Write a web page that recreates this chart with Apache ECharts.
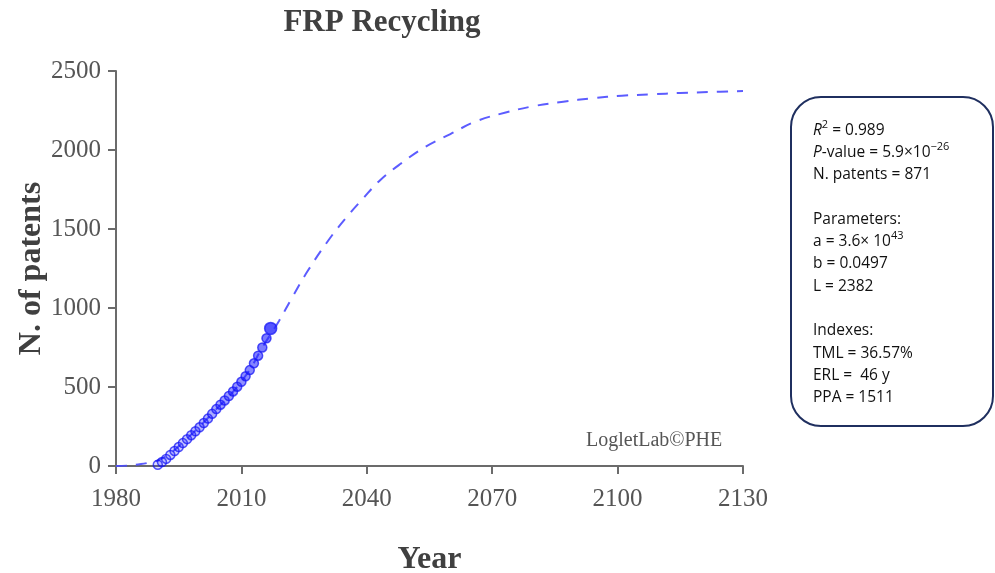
<!DOCTYPE html>
<html>
<head>
<meta charset="utf-8">
<script src="https://cdn.jsdelivr.net/npm/echarts@6/dist/echarts.min.js"></script>
<style>
  html, body { margin: 0; padding: 0; background: #fff; }
  #chart { width: 995px; height: 573px; }
</style>
</head>
<body>
<div id="chart"></div>
<script>
// Observed cumulative patents per year
const years = [1990, 1991, 1992, 1993, 1994, 1995, 1996, 1997, 1998, 1999,
               2000, 2001, 2002, 2003, 2004, 2005, 2006, 2007, 2008, 2009,
               2010, 2011, 2012, 2013, 2014, 2015, 2016, 2017];
const patents = [8, 25, 45, 70, 95, 120, 145, 170, 195, 220,
                 245, 272, 300, 330, 360, 388, 415, 443, 472, 502,
                 533, 568, 607, 650, 698, 750, 808, 871];

// Fitted logistic curve (dashed)
const fitYears = [1980, 1983, 1986, 1988, 1990, 1993, 1996, 2000, 2004, 2008,
                  2012, 2015, 2019, 2022, 2026, 2031, 2035, 2039, 2043, 2048,
                  2054, 2060, 2066, 2073, 2080, 2087, 2094, 2101, 2108, 2115,
                  2122, 2130];
const fitValues = [0, 3, 12, 22, 35, 80, 150, 250, 360, 470,
                   610, 750, 918, 1060, 1240, 1435, 1570, 1690, 1804, 1911,
                   2020, 2101, 2180, 2236, 2278, 2306, 2327, 2344, 2352, 2361,
                   2367, 2373];

const yTicks = [0, 500, 1000, 1500, 2000, 2500];
const xTicks = [1980, 2010, 2040, 2070, 2100, 2130];

const statsLines = [
  '{i|R}{sup|2} = 0.989',
  '{i|P}-value = 5.9×10{sup|−26}',
  'N. patents = 871',
  '',
  'Parameters:',
  'a = 3.6× 10{sup|43}',
  'b = 0.0497',
  'L = 2382',
  '',
  'Indexes:',
  'TML = 36.57%',
  'ERL =  46 y',
  'PPA = 1511'
];

const chart = echarts.init(document.getElementById('chart'), null, { renderer: 'canvas' });

const serif = '"Liberation Serif", "DejaVu Serif", serif';
const sans = '"Open Sans", "Liberation Sans", sans-serif';
const nPts = patents.length;

chart.setOption({
  animation: false,
  backgroundColor: '#ffffff',
  title: {
    text: 'FRP Recycling',
    left: 377,
    top: 2,
    textAlign: 'center',
    textStyle: { fontFamily: serif, fontWeight: 'bold', fontSize: 31, color: '#404040' }
  },
  grid: {
    left: 116, right: 252, top: 71, bottom: 107,
    containLabel: false,
    outerBoundsMode: 'none'
  },
  xAxis: {
    type: 'value',
    min: xTicks[0],
    max: xTicks[xTicks.length - 1],
    interval: 30,
    name: 'Year',
    nameLocation: 'middle',
    nameGap: 78,
    nameTextStyle: { fontFamily: serif, fontWeight: 'bold', fontSize: 32, color: '#404040' },
    axisLine: { onZero: false, lineStyle: { color: '#6b6b6b', width: 2 } },
    axisTick: { show: true, length: 8, lineStyle: { color: '#6b6b6b', width: 2 } },
    axisLabel: {
      fontFamily: serif, fontSize: 25, color: '#555555', margin: 21,
      formatter: v => String(v)
    },
    splitLine: { show: false }
  },
  yAxis: {
    type: 'value',
    min: yTicks[0],
    max: yTicks[yTicks.length - 1],
    interval: 500,
    name: 'N. of patents',
    nameLocation: 'middle',
    nameGap: 68,
    nameMoveOverlap: false,
    nameRotate: 90,
    nameTextStyle: { fontFamily: serif, fontWeight: 'bold', fontSize: 32, color: '#404040' },
    axisLine: { show: true, lineStyle: { color: '#6b6b6b', width: 2 } },
    axisTick: { show: true, length: 8, lineStyle: { color: '#6b6b6b', width: 2 } },
    axisLabel: {
      fontFamily: serif, fontSize: 25, color: '#555555', margin: 15,
      formatter: v => String(v)
    },
    splitLine: { show: false }
  },
  series: [
    {
      name: 'fit',
      type: 'line',
      smooth: 0.4,
      symbol: 'none',
      data: fitYears.map((y, i) => [y, fitValues[i]]),
      lineStyle: { color: '#4a4aff', width: 2, type: [11, 9], opacity: 0.9 },
      z: 2
    },
    {
      name: 'patents',
      type: 'scatter',
      data: years.map((y, i) => [y, patents[i]]),
      symbol: 'circle',
      symbolSize: (val, p) => p.dataIndex === nPts - 1 ? 12 : 9,
      itemStyle: {
        color: p => {
          const a = 0.2 + 0.6 * p.dataIndex / (nPts - 1);
          return p.dataIndex === nPts - 1 ? '#2a2aff' : 'rgba(40,40,255,' + a.toFixed(2) + ')';
        },
        borderColor: 'rgba(20,20,245,0.9)',
        borderWidth: 1.5
      },
      z: 3
    }
  ],
  graphic: [
    {
      type: 'text',
      left: 586,
      top: 431,
      style: {
        text: 'LogletLab©PHE',
        fontFamily: serif,
        fontSize: 20,
        fill: '#555555'
      }
    },
    {
      type: 'rect',
      shape: { x: 791, y: 97, width: 202, height: 329, r: 30 },
      style: { fill: '#ffffff', stroke: '#1f2f5f', lineWidth: 2 },
      z: 10
    },
    {
      type: 'text',
      left: 813,
      top: 119,
      z: 11,
      style: {
        text: statsLines.join('\n'),
        fontFamily: sans,
        fontSize: 15.5,
        lineHeight: 22.3,
        fill: '#111111',
        rich: {
          i: {
            fontFamily: sans,
            fontStyle: 'italic',
            fontSize: 15.5,
            lineHeight: 22.3,
            fill: '#111111'
          },
          sup: {
            fontFamily: sans,
            fontSize: 11,
            lineHeight: 22.3,
            verticalAlign: 'top',
            padding: [0, 0, 6, 0],
            fill: '#111111'
          }
        }
      }
    }
  ]
});
</script>
</body>
</html>
